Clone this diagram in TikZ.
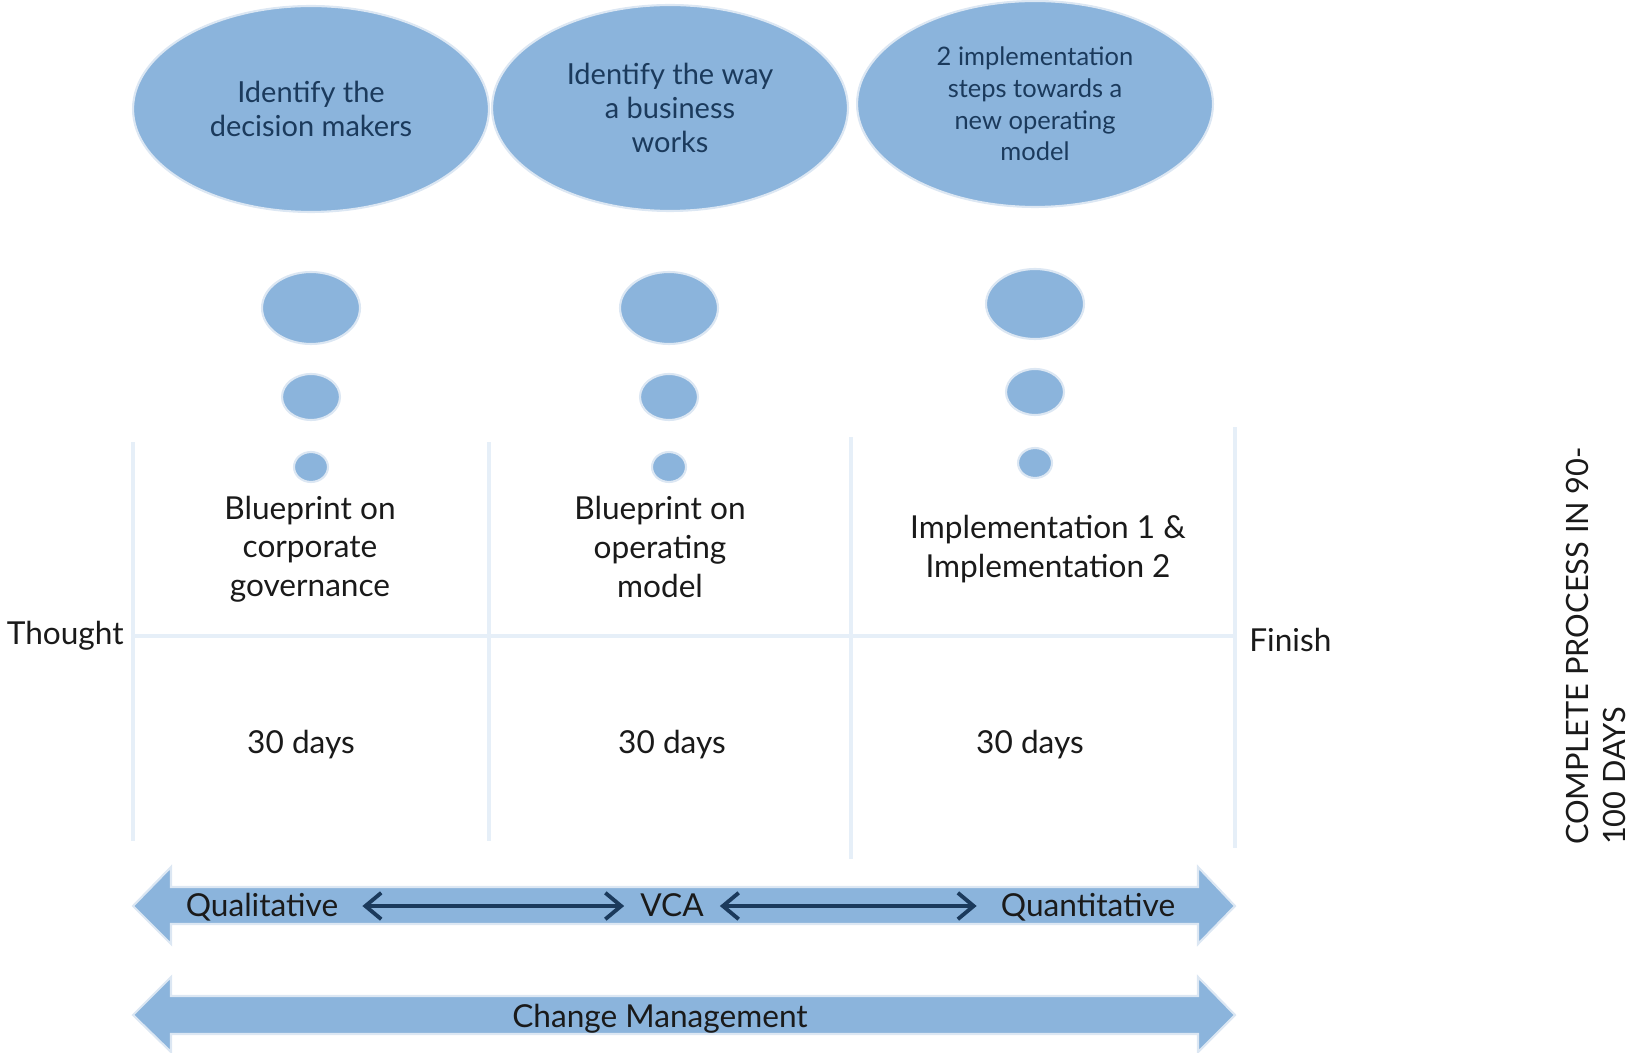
\documentclass[tikz,border=0pt]{standalone}
\usepackage{fontspec}
\setmainfont{Lato}
\usetikzlibrary{shapes.geometric,arrows.meta}
\definecolor{bubblefill}{HTML}{8BB4DC}
\definecolor{bubbleedge}{HTML}{DCE7F3}
\definecolor{gridline}{HTML}{E6EFF8}
\definecolor{navy}{HTML}{1B3A5C}
\definecolor{bodytext}{HTML}{1A1A1A}
\begin{document}
\begin{tikzpicture}[x=0.02cm,y=-0.02cm]
			\tikzstyle{bubble} = [shape=ellipse, fill=bubblefill, draw=bubbleedge, line width=1.2pt, inner sep=0]
			\tikzstyle{thought} = [bubble, minimum width=7.12cm, minimum height=4.12cm, align=center, text=navy]
			\tikzstyle{grid} = [draw=gridline, line width=2.3pt]
			\tikzstyle{band} = [fill=bubblefill, draw=bubbleedge, line width=1.2pt, line join=miter]
			\tikzstyle{plain} = [align=center, text=bodytext, font=\fontsize{18}{22}\selectfont]
			\tikzstyle{link} = [{Straight Barb[length=9pt,width=15pt]}-{Straight Barb[length=9pt,width=15pt]}, line width=2.2pt, draw=navy]
			\useasboundingbox (0,0) rectangle (1632,1053);
			\draw[grid] (133,442) -- (133,841);
			\draw[grid] (489,442) -- (489,841);
			\draw[grid] (851,437) -- (851,859);
			\draw[grid] (1235,427) -- (1235,848);
			\draw[grid] (133,636) -- (1235,636);
			\node [thought, font=\fontsize{16.5}{19.5}\selectfont] (e1) at (311,109) {Identify the\\decision makers};
			\node [thought, font=\fontsize{16.5}{19.5}\selectfont] (e2) at (670,108) {Identify the way\\a business\\works};
			\node [thought, font=\fontsize{14.5}{18}\selectfont] (e3) at (1035,104) {2 implementation\\steps towards a\\new operating\\model};
			\node [bubble, minimum width=1.96cm, minimum height=1.44cm] (m1) at (311,308) {};
			\node [bubble, minimum width=1.96cm, minimum height=1.44cm] (m2) at (669,308) {};
			\node [bubble, minimum width=1.96cm, minimum height=1.40cm] (m3) at (1035,304) {};
			\node [bubble, minimum width=1.16cm, minimum height=0.92cm] (s1) at (311,397) {};
			\node [bubble, minimum width=1.16cm, minimum height=0.92cm] (s2) at (669,397) {};
			\node [bubble, minimum width=1.16cm, minimum height=0.92cm] (s3) at (1035,392) {};
			\node [bubble, minimum width=0.68cm, minimum height=0.60cm] (t1) at (311,467) {};
			\node [bubble, minimum width=0.68cm, minimum height=0.60cm] (t2) at (669,467) {};
			\node [bubble, minimum width=0.68cm, minimum height=0.60cm] (t3) at (1035,463) {};
			\node [plain] (p1) at (310,549) {Blueprint on\\corporate\\governance};
			\node [plain] (p2) at (660,547) {Blueprint on\\operating\\model};
			\node [plain] (p3) at (1048,549) {Implementation 1 \&\\Implementation 2};
			\node [plain] (d1) at (301,745) {30 days};
			\node [plain] (d2) at (672,745) {30 days};
			\node [plain] (d3) at (1030,745) {30 days};
			\node [plain, anchor=east, inner sep=0] (start) at (124,636) {Thought};
			\node [plain, anchor=west, inner sep=0] (finish) at (1249,640) {Finish};
			\draw[band] (133,906) -- (171,867) -- (171,887) -- (1198,887) -- (1198,867) -- (1235,906) -- (1198,944) -- (1198,924) -- (171,924) -- (171,944) -- cycle;
			\draw[band] (133,1015) -- (171,977) -- (171,996) -- (1198,996) -- (1198,977) -- (1235,1015) -- (1198,1052) -- (1198,1034) -- (171,1034) -- (171,1052) -- cycle;
			\node [plain, text height=15pt, text depth=3pt] (q1) at (262,906) {Qualitative};
			\node [plain, text height=15pt, text depth=3pt] (q2) at (672,906) {VCA};
			\node [plain, text height=15pt, text depth=3pt] (q3) at (1088,906) {Quantitative};
			\node [plain] (cm) at (660,1019) {Change Management};
			\draw [link, shorten <=0.36cm, shorten >=0.2cm] (q1) -- (q2);
			\draw [link, shorten <=0.2cm, shorten >=0.36cm] (q2) -- (q3);
			\node [plain, rotate=90, align=left, font=\fontsize{17.5}{21.5}\selectfont] (total) at (1596,646) {COMPLETE PROCESS IN 90-\\100 DAYS};
\end{tikzpicture}
\end{document}
